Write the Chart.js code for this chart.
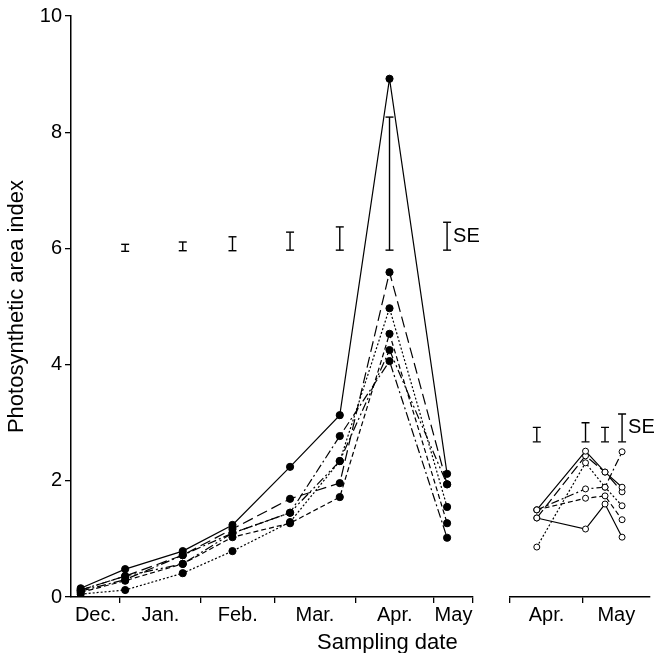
<!DOCTYPE html>
<html>
<head>
<meta charset="utf-8">
<script src="https://cdn.jsdelivr.net/npm/chart.js@4/dist/chart.umd.min.js"></script>
<style>
  body { margin: 0; background: #fff; width: 655px; height: 653px; overflow: hidden; position: relative; font-family: 'Liberation Sans', Arial, sans-serif; }
  #mainChart { position: absolute; left: 0; top: 0; }
  #lateChart { position: absolute; left: 490px; top: 0; }
  #xTitle { position: absolute; left: 317px; top: 631px; font-size: 22px; line-height: 22px; color: #000; white-space: nowrap; }
</style>
</head>
<body>
<canvas id="mainChart" width="490" height="653"></canvas>
<canvas id="lateChart" width="165" height="653"></canvas>
<div id="xTitle">Sampling date</div>
<script>
// main panel: days counted from 1 Dec
const monthNames = ['Dec.', 'Jan.', 'Feb.', 'Mar.', 'Apr.', 'May'];
const monthStarts = [0, 31, 62, 90, 121, 151];
const sampleDays = [16, 33, 55, 74, 96, 115, 134, 156];

const solidSeries   = [0.15, 0.48, 0.79, 1.24, 2.24, 3.13, 8.92, 2.12];
const longDash      = [0.12, 0.36, 0.72, 1.17, 1.69, 1.96, 5.59, 1.94];
const dashDot       = [0.10, 0.30, 0.72, 1.10, 1.45, 2.77, 4.06, 1.02];
const dotted        = [0.05, 0.12, 0.41, 0.79, 1.29, 2.34, 4.97, 1.55];
const shortDash     = [0.08, 0.28, 0.57, 1.03, 1.27, 1.72, 4.53, 1.27];
const dashDotDot    = [0.12, 0.36, 0.57, 1.10, 1.45, 2.34, 4.25, 1.94];

const seDays = [33, 55, 74, 96, 115, 134, 156];
const seLow  = [5.95, 5.96, 5.96, 5.97, 5.97, 5.97, 5.97];
const seHigh = [6.07, 6.11, 6.20, 6.28, 6.37, 8.26, 6.45];

// right panel: days counted from 1 Apr
const lateMonthNames = ['Apr.', 'May'];
const lateMonthStarts = [0, 30];
const lateDays = [11, 31, 39, 46];

const lateSolid     = [1.50, 2.51, 2.15, 1.89];
const lateLongDash  = [1.36, 2.43, 2.15, 1.81];
const lateDotted    = [0.86, 2.31, 1.89, 1.57];
const lateShortDash = [1.50, 1.70, 1.74, 1.33];
const lateSolid2    = [1.36, 1.17, 1.60, 1.03];
const lateDashDot   = [1.50, 1.86, 1.89, 2.50];

const lateSeLow  = [2.67, 2.67, 2.67, 2.67];
const lateSeHigh = [2.92, 3.00, 2.92, 3.15];

Chart.defaults.font.family = "'Liberation Sans', Arial, sans-serif";
Chart.defaults.color = '#000';

const toPoints = (days, vals) => days.map((d, i) => ({ x: d, y: vals[i] }));

const sePoints = (days, lows, highs) => {
  const pts = [];
  days.forEach((d, i) => {
    pts.push({ x: d, y: lows[i] }, { x: d, y: highs[i] }, { x: d, y: null });
  });
  return pts;
};

const lineSet = (days, vals, dash, open) => ({
  data: toPoints(days, vals),
  borderColor: '#000',
  borderWidth: 1.2,
  borderDash: dash,
  pointRadius: open ? 3 : 3.6,
  pointBackgroundColor: open ? '#fff' : '#000',
  pointBorderColor: '#000',
  pointBorderWidth: 1,
  tension: 0
});

const seSet = (days, lows, highs) => ({
  label: 'SE',
  data: sePoints(days, lows, highs),
  borderColor: '#000',
  borderWidth: 1.4,
  pointStyle: 'line',
  pointRadius: 4,
  pointBorderWidth: 1.4,
  pointBorderColor: '#000',
  spanGaps: false
});

// month ticks: boundaries get a tick mark, labels sit mid-month
const monthAxis = (starts, names, min, max, endTick) => {
  const edges = starts.filter(s => s >= min && s <= max);
  if (endTick) edges.push(max);
  const labels = {};
  starts.forEach((s, i) => {
    const from = Math.max(s, min);
    const to = Math.min(i + 1 < starts.length ? starts[i + 1] : max, max);
    if (to > from) labels[(from + to) / 2] = names[i];
  });
  const values = edges.concat(Object.keys(labels).map(Number)).sort((a, b) => a - b);
  return {
    type: 'linear',
    min: min,
    max: max,
    afterBuildTicks: s => { s.ticks = values.map(v => ({ value: v })); },
    afterFit: s => { s.height = 56; },
    border: { display: true, color: '#000', width: 1.5 },
    grid: {
      drawOnChartArea: false,
      tickLength: 6,
      lineWidth: 1.3,
      color: ctx => (ctx.tick && edges.includes(ctx.tick.value)) ? '#000' : 'rgba(0,0,0,0)'
    },
    ticks: {
      autoSkip: false,
      maxRotation: 0,
      minRotation: 0,
      padding: 0,
      font: { size: 20 },
      callback: v => labels[v] || ''
    }
  };
};

const seLabel = {
  id: 'seLabel',
  afterDatasetsDraw(chart) {
    const idx = chart.data.datasets.findIndex(d => d.label === 'SE');
    const pts = chart.getDatasetMeta(idx).data;
    const hi = pts[pts.length - 2], lo = pts[pts.length - 3];
    const ctx = chart.ctx;
    ctx.save();
    ctx.fillStyle = '#000';
    ctx.font = "20px 'Liberation Sans', Arial, sans-serif";
    ctx.textBaseline = 'middle';
    ctx.fillText('SE', hi.x + 6, (hi.y + lo.y) / 2);
    ctx.restore();
  }
};

new Chart(document.getElementById('mainChart'), {
  type: 'line',
  data: {
    datasets: [
      lineSet(sampleDays, solidSeries, [], false),
      lineSet(sampleDays, longDash, [11, 5], false),
      lineSet(sampleDays, dashDot, [9, 3, 2, 3], false),
      lineSet(sampleDays, dotted, [2, 2], false),
      lineSet(sampleDays, shortDash, [5, 3], false),
      lineSet(sampleDays, dashDotDot, [9, 3, 2, 3, 2, 3], false),
      seSet(seDays, seLow, seHigh)
    ]
  },
  options: {
    responsive: false,
    animation: false,
    layout: { padding: { left: 0, right: 17, top: 16, bottom: 0 } },
    plugins: { legend: { display: false }, tooltip: { enabled: false } },
    scales: {
      x: monthAxis(monthStarts, monthNames, 12.3, 165.9, true),
      y: {
        min: 0,
        max: 10,
        afterFit: s => { s.width = 71; },
        border: { display: true, color: '#000', width: 1.5 },
        grid: { drawOnChartArea: false, tickLength: 6, color: '#000', lineWidth: 1.3 },
        ticks: { stepSize: 2, padding: 3, font: { size: 20 } },
        title: {
          display: true,
          text: 'Photosynthetic area index',
          font: { size: 22 },
          padding: { top: 4, bottom: 0 }
        }
      }
    }
  },
  plugins: [seLabel]
});

new Chart(document.getElementById('lateChart'), {
  type: 'line',
  data: {
    datasets: [
      lineSet(lateDays, lateSolid, [], true),
      lineSet(lateDays, lateLongDash, [10, 4], true),
      lineSet(lateDays, lateDotted, [2, 2], true),
      lineSet(lateDays, lateShortDash, [5, 3], true),
      lineSet(lateDays, lateSolid2, [], true),
      lineSet(lateDays, lateDashDot, [8, 3, 2, 3], true),
      seSet(lateDays, lateSeLow, lateSeHigh)
    ]
  },
  options: {
    responsive: false,
    animation: false,
    layout: { padding: { left: 20, right: 0, top: 16, bottom: 0 } },
    plugins: { legend: { display: false }, tooltip: { enabled: false } },
    scales: {
      x: monthAxis(lateMonthStarts, lateMonthNames, 0, 57.3, false),
      y: { display: false, min: 0, max: 10 }
    }
  },
  plugins: [seLabel]
});
</script>
</body>
</html>
